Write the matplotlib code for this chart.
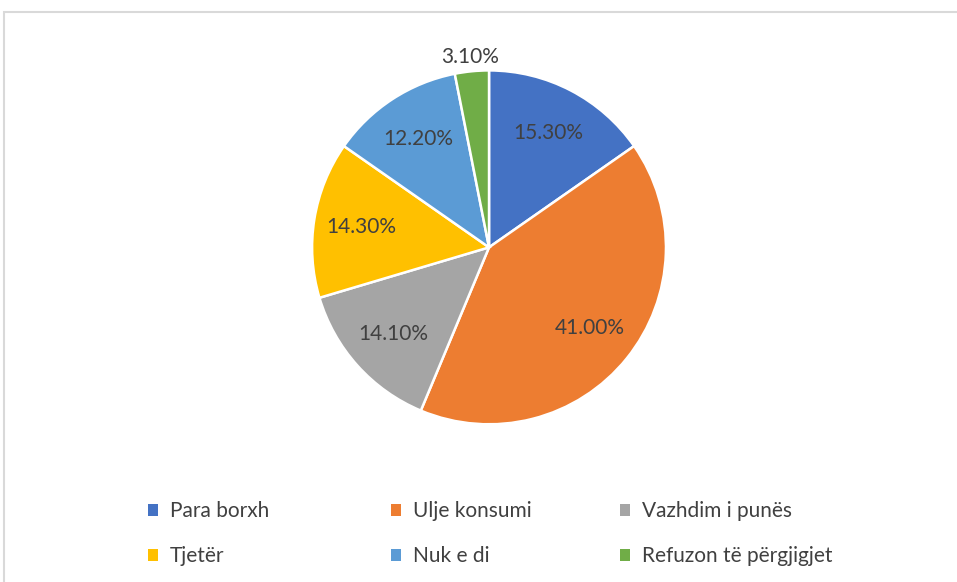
import matplotlib.pyplot as plt
from matplotlib.patches import Patch, Rectangle
import numpy as np

# Të dhënat
labels = ['Para borxh', 'Ulje konsumi', 'Vazhdim i punës',
          'Tjetër', 'Nuk e di', 'Refuzon të përgjigjet']
values = [15.3, 41.0, 14.1, 14.3, 12.2, 3.1]
colors = ['#4472C4', '#ED7D31', '#A5A5A5', '#FFC000', '#5B9BD5', '#70AD47']

plt.rcParams['font.family'] = ['Lato', 'DejaVu Sans']
text_color = '#404040'

fig = plt.figure(figsize=(9.57, 5.82), dpi=100)

# korniza e grafikut (vetëm lart dhe majtas duken)
fig.patches.append(Rectangle((4 / 957, -0.1), 1.2, 1 - 12 / 582 + 0.1,
                             transform=fig.transFigure, fill=False,
                             edgecolor='#D9D9D9', linewidth=1.5))

ax = fig.add_axes([0.326, 0.271, 0.370, 0.608])
wedges, texts, autotexts = ax.pie(
    values, colors=colors, startangle=90, counterclock=False,
    autopct='%.2f%%', pctdistance=0.73,
    wedgeprops=dict(edgecolor='white', linewidth=1.8),
    textprops=dict(color=text_color, fontsize=15))
ax.set_xlim(-1, 1)
ax.set_ylim(-1, 1)
ax.set_aspect('equal')

# etiketa e vogël jashtë pites
w = wedges[-1]
ang = np.deg2rad((w.theta1 + w.theta2) / 2)
autotexts[-1].set_position((1.08 * np.cos(ang), 1.08 * np.sin(ang)))

# legjenda: tre kolona
handles = [Patch(facecolor=c, edgecolor='none') for c in colors]
col_x = [140 / 957, 383 / 957, 612 / 957]
for c in range(3):
    fig.legend(handles[c::3], labels[c::3], loc='upper left',
               bbox_to_anchor=(col_x[c], 1 - 493 / 582),
               frameon=False, fontsize=15, labelcolor=text_color,
               handlelength=0.45, handleheight=0.45, handletextpad=0.6,
               labelspacing=1.2, borderaxespad=0)

fig.savefig('out.png', dpi=100)
